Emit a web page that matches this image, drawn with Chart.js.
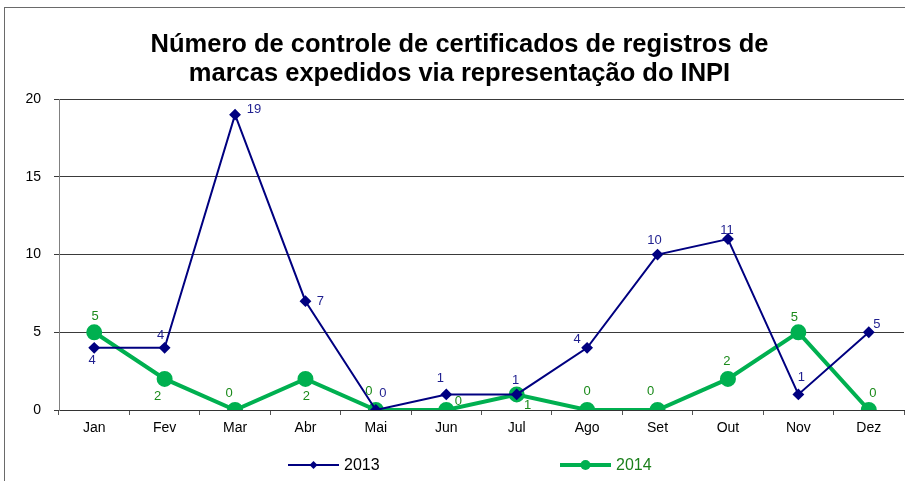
<!DOCTYPE html>
<html>
<head>
<meta charset="utf-8">
<script src="https://cdn.jsdelivr.net/npm/chart.js@4"></script>
<style>
  html, body { margin: 0; padding: 0; background: #fff; }
  #wrap { width: 905px; height: 481px; position: relative; }
</style>
</head>
<body>
<div id="wrap"><canvas id="grafico" width="905" height="481"></canvas></div>
<script>
// dados do grafico
var meses = ['Jan', 'Fev', 'Mar', 'Abr', 'Mai', 'Jun', 'Jul', 'Ago', 'Set', 'Out', 'Nov', 'Dez'];
var serie2013 = [4, 4, 19, 7, 0, 1, 1, 4, 10, 11, 1, 5];
var serie2014 = [5, 2, 0, 2, 0, 0, 1, 0, 0, 2, 5, 0];
var titulo = ['Número de controle de certificados de registros de', 'marcas expedidos via representação do INPI'];

// deslocamento dos rotulos de dados (px), como o Excel colocou
var rot2013 = [[-2, 13], [-4, -12], [19, -5], [15, 0], [7, -17], [-6, -16], [-1, -14], [-10, -8], [-3, -14], [-1, -9], [3, -17], [8, -8]];
var rot2014 = [[1, -16], [-7, 18], [-6, -17], [1, 18], [-7, -19], [12, -9], [11, 11], [0, -19], [-7, -19], [-1, -17], [-4, -15], [4, -17]];

var fonte = "'Liberation Sans', Arial, sans-serif";

// moldura, rotulos e legenda
const extras = {
    id: 'extras',
    beforeDraw(chart) {
        const ctx = chart.ctx;
        ctx.save();
        ctx.strokeStyle = '#6a6a6a';
        ctx.lineWidth = 1;
        ctx.strokeRect(4.5, 7.5, 1000, 1000);
        ctx.restore();
    },
    afterDatasetsDraw(chart) {
        const ctx = chart.ctx;
        const offs = [rot2013, rot2014];
        const cores = ['#1f1f8f', '#1a8a1a'];
        ctx.save();
        ctx.font = '13px ' + fonte;
        ctx.textAlign = 'center';
        ctx.textBaseline = 'middle';
        chart.data.datasets.forEach(function (ds, d) {
            const meta = chart.getDatasetMeta(d);
            meta.data.forEach(function (pt, i) {
                ctx.fillStyle = cores[d];
                ctx.fillText(String(ds.data[i]), pt.x + offs[d][i][0], pt.y + offs[d][i][1]);
            });
        });

        // legenda
        const ly = 465;
        const itens = [
            { x: 288, cor: '#000080', w: 2, txt: '#000000', forma: 'd' },
            { x: 560, cor: '#00B050', w: 4, txt: '#1a7f1a', forma: 'c' }
        ];
        itens.forEach(function (it, k) {
            ctx.strokeStyle = it.cor;
            ctx.lineWidth = it.w;
            ctx.beginPath();
            ctx.moveTo(it.x, ly);
            ctx.lineTo(it.x + 51, ly);
            ctx.stroke();
            ctx.fillStyle = it.cor;
            ctx.beginPath();
            const cx = it.x + 25.5;
            if (it.forma === 'd') {
                ctx.moveTo(cx, ly - 4);
                ctx.lineTo(cx + 4, ly);
                ctx.lineTo(cx, ly + 4);
                ctx.lineTo(cx - 4, ly);
                ctx.closePath();
            } else {
                ctx.arc(cx, ly, 5, 0, Math.PI * 2);
            }
            ctx.fill();
            ctx.fillStyle = it.txt;
            ctx.font = '16px ' + fonte;
            ctx.textAlign = 'left';
            ctx.textBaseline = 'middle';
            ctx.fillText(chart.data.datasets[k].label, it.x + 56, ly + 1);
        });
        ctx.restore();
    }
};

const config = {
    type: 'line',
    data: {
        labels: meses,
        datasets: [{
            label: '2013',
            data: serie2013,
            borderColor: '#000080',
            backgroundColor: '#000080',
            borderWidth: 2,
            pointStyle: 'rectRot',
            pointRadius: 4.5,
            pointHoverRadius: 4.5,
            tension: 0
        }, {
            label: '2014',
            data: serie2014,
            borderColor: '#00B050',
            backgroundColor: '#00B050',
            borderWidth: 4,
            pointStyle: 'circle',
            pointRadius: 6,
            pointHoverRadius: 6,
            tension: 0
        }]
    },
    options: {
        responsive: false,
        animation: false,
        devicePixelRatio: 1,
        layout: { autoPadding: false, padding: { left: 15, right: 1, top: 0, bottom: 0 } },
        plugins: {
            legend: { display: false },
            tooltip: { enabled: false },
            title: {
                display: true,
                text: titulo,
                color: '#000',
                font: { family: fonte, size: 25.5, weight: 'bold', lineHeight: 1.14 },
                padding: { top: 30, bottom: 11 }
            }
        },
        scales: {
            x: {
                offset: true,
                grid: { offset: true, drawOnChartArea: false, color: '#555', tickLength: 5 },
                border: { color: '#333', width: 1 },
                ticks: { color: '#000', font: { family: fonte, size: 14 }, padding: 5, maxRotation: 0 },
                afterFit: function (s) { s.height = 71; s.paddingLeft = 0; s.paddingRight = 0; }
            },
            y: {
                min: 0,
                max: 20,
                ticks: { stepSize: 5, color: '#000', font: { family: fonte, size: 14 }, padding: 13 },
                grid: { color: '#3a3a3a', tickLength: 5 },
                border: { color: '#808080', width: 1 },
                afterFit: function (s) { s.width = 44; }
            }
        }
    },
    plugins: [extras]
};

const myChart = new Chart(document.getElementById('grafico'), config);
</script>
</body>
</html>
